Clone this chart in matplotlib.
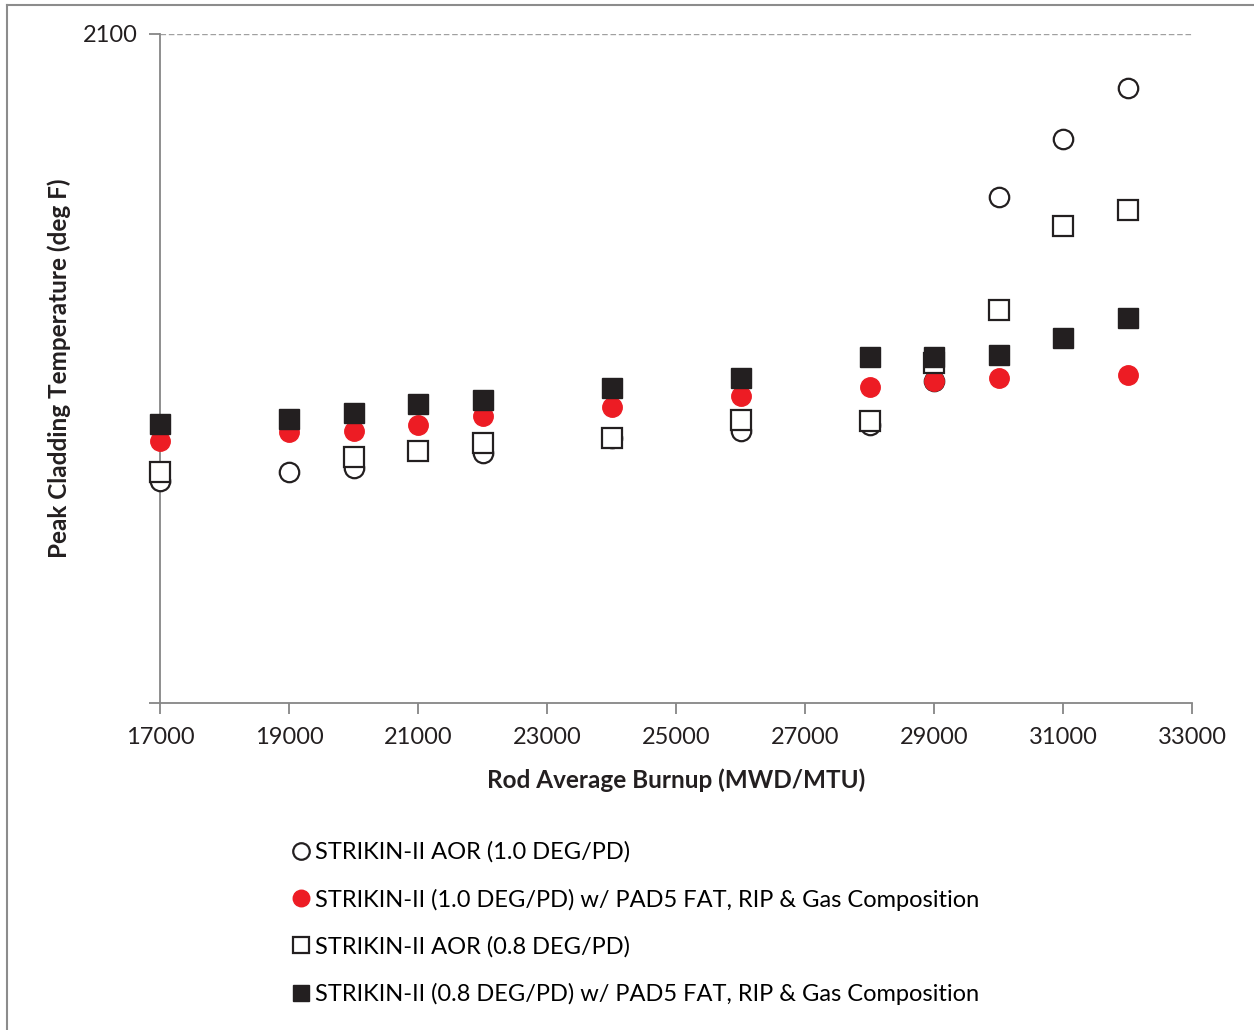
import matplotlib
matplotlib.use('Agg')
import matplotlib.pyplot as plt
from matplotlib.lines import Line2D

plt.rcParams['font.family'] = ['Lato', 'DejaVu Sans']

# Data (only the 2100 tick is labelled, lower values are estimates)
burnup_aor_10 = [17000, 19000, 20000, 22000, 24000, 26000, 28000, 29000, 30000, 31000, 32000]
pct_aor_10 = [1632, 1642, 1646, 1662, 1677, 1685, 1691, 1737, 1929, 1990, 2043]

burnup_pad_10 = [17000, 19000, 20000, 21000, 22000, 24000, 26000, 28000, 29000, 30000, 32000]
pct_pad_10 = [1674, 1684, 1685, 1691, 1700, 1710, 1721, 1731, 1737, 1740, 1743]

burnup_aor_08 = [17000, 20000, 21000, 22000, 24000, 26000, 28000, 29000, 30000, 31000, 32000]
pct_aor_08 = [1642, 1657, 1664, 1672, 1677, 1696, 1695, 1756, 1811, 1899, 1916]

burnup_pad_08 = [17000, 19000, 20000, 21000, 22000, 24000, 26000, 28000, 29000, 30000, 31000, 32000]
pct_pad_08 = [1692, 1697, 1703, 1713, 1717, 1730, 1740, 1762, 1762, 1764, 1782, 1803]

labels = ['STRIKIN-II AOR (1.0 DEG/PD)',
          'STRIKIN-II (1.0 DEG/PD) w/ PAD5 FAT, RIP & Gas Composition',
          'STRIKIN-II AOR (0.8 DEG/PD)',
          'STRIKIN-II (0.8 DEG/PD) w/ PAD5 FAT, RIP & Gas Composition']

x_ticks = [17000, 19000, 21000, 23000, 25000, 27000, 29000, 31000, 33000]

RED = '#ed1c24'
BLACK = '#231f20'
AXIS_GRAY = '#868686'

fig = plt.figure(figsize=(12.54, 10.30), dpi=100)
ax = fig.add_axes([160 / 1254, 1 - 703 / 1030, (1192 - 160) / 1254, (703 - 34) / 1030])

ms = 14
ax.plot(burnup_aor_10, pct_aor_10, 'o', ms=ms, mfc='white', mec=BLACK, mew=1.6,
        label=labels[0], clip_on=False)
ax.plot(burnup_pad_10, pct_pad_10, 'o', ms=ms, mfc=RED, mec=RED, mew=1.0,
        label=labels[1], clip_on=False)
ax.plot(burnup_aor_08, pct_aor_08, 's', ms=ms, mfc='white', mec=BLACK, mew=1.6,
        label=labels[2], clip_on=False)
ax.plot(burnup_pad_08, pct_pad_08, 's', ms=ms, mfc=BLACK, mec=BLACK, mew=1.0,
        label=labels[3], clip_on=False)

ax.set_xlim(17000, 33000)
ax.set_ylim(1400, 2100)
ax.set_xticks(x_ticks)
ax.set_yticks([1400, 2100])
ax.set_yticklabels(['', '2100'])
ax.axhline(2100, color='#a0a0a0', lw=1.0, ls=(0, (4, 2)), zorder=0)

for s in ['top', 'right']:
    ax.spines[s].set_visible(False)
for s in ['left', 'bottom']:
    ax.spines[s].set_color(AXIS_GRAY)
    ax.spines[s].set_linewidth(1.3)
    ax.spines[s].set_zorder(0.5)
ax.tick_params(axis='both', colors=AXIS_GRAY, length=8, width=1.3, labelsize=17,
               labelcolor=BLACK)
ax.tick_params(axis='x', pad=9)
ax.tick_params(axis='y', pad=8)

ax.set_xlabel('Rod Average Burnup (MWD/MTU)', fontsize=17.5, fontweight='bold',
              color=BLACK, labelpad=15)
ax.set_ylabel('Peak Cladding Temperature (deg F)', fontsize=17.5, fontweight='bold',
              color=BLACK)
ax.yaxis.set_label_coords((71 - 160) / 1032, 0.5)

fig.legend(loc='upper left', bbox_to_anchor=(282 / 1254, 1 - 832 / 1030),
           frameon=False, fontsize=17, markerscale=0.85, handlelength=0.8,
           handletextpad=0.2, labelspacing=1.08, borderaxespad=0)

# outer chart border (left and top edges visible)
fig.add_artist(Line2D([7 / 1254, 7 / 1254], [0, 1 - 5 / 1030], transform=fig.transFigure,
                      color='#8c8c8c', lw=1.5))
fig.add_artist(Line2D([7 / 1254, 1], [1 - 5 / 1030, 1 - 5 / 1030], transform=fig.transFigure,
                      color='#8c8c8c', lw=1.5))

fig.savefig('out.png', dpi=100)
